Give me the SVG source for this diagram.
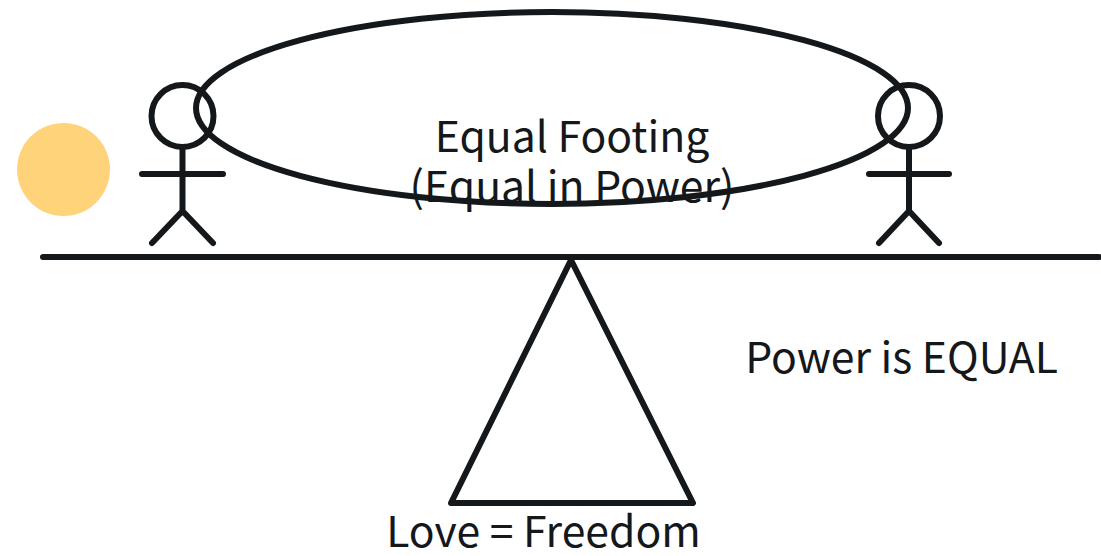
<svg xmlns="http://www.w3.org/2000/svg" width="1101" height="556" viewBox="0 0 1101 556">
<style>
.s{fill:none;stroke:#14181b;stroke-width:6;stroke-linecap:round;stroke-linejoin:round}
.t{font-family:"Noto Sans CJK SC","Noto Sans",sans-serif;font-size:42.7px;fill:#14181b;text-anchor:middle}
</style>
<rect width="1101" height="556" fill="#fff"/>
<circle id="dot" cx="63.5" cy="169.5" r="46.5" fill="#ffd37a"/>
<g id="left-person" class="s"><circle cx="182.5" cy="116" r="31"/><path d="M182.5 148V211M142 174H223M182.5 211L152 243M182.5 211L213 243"/></g>
<g id="right-person" class="s"><circle cx="909" cy="116" r="31"/><path d="M909 148V211M869 174H949M909 211L879 243M909 211L939 243"/></g>
<g id="connectors" class="s"><path d="M43 257H1099"/></g>
<g id="ellipse"><ellipse class="s" cx="552" cy="108" rx="356" ry="96"/></g>
<g id="fulcrum"><path class="s" d="M571 260L693 503H451Z"/></g>
<text class="t" x="572" y="152">Equal Footing</text>
<text class="t" x="572" y="202">(Equal in Power)</text>
<text class="t" x="901.5" y="373">Power is EQUAL</text>
<text class="t" x="543.5" y="547">Love = Freedom</text>
</svg>
